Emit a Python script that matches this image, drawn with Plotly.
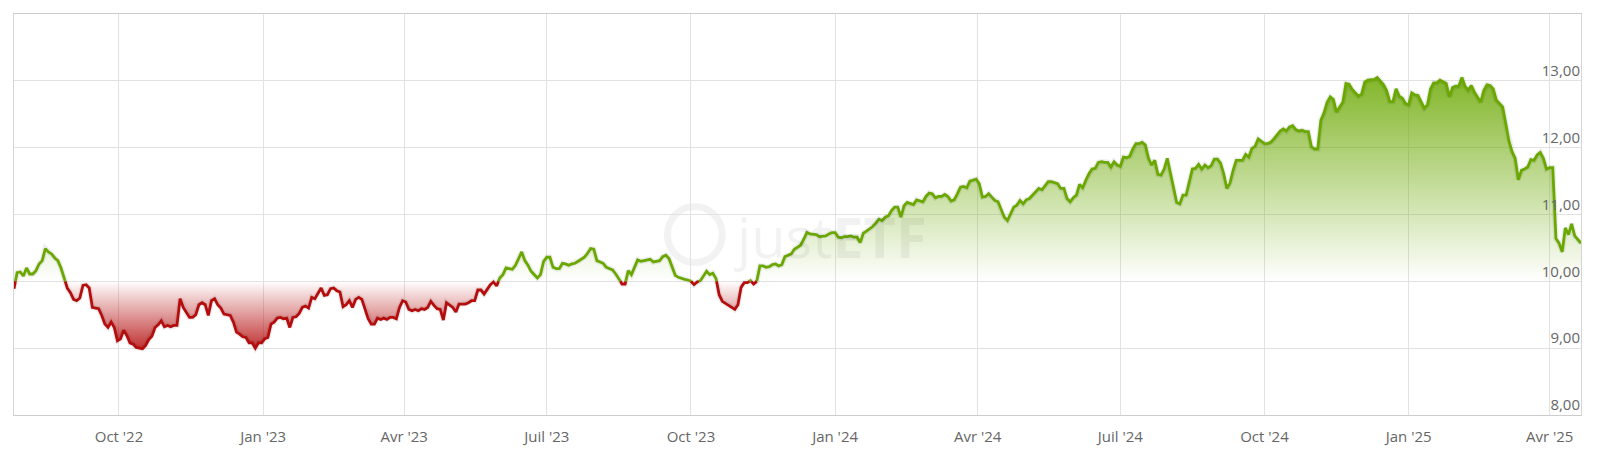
import pandas as pd
import plotly.graph_objects as go

# ---------------- data ----------------
start_date = "2022-07-26"
sample_step = "2D"
prices = [
    9.89, 10.13, 10.14, 10.08, 10.20, 10.11, 10.11, 10.16, 10.26, 10.31,
    10.49, 10.44, 10.41, 10.35, 10.31, 10.20, 10.05, 9.90, 9.83, 9.73,
    9.71, 9.75, 9.94, 9.95, 9.90, 9.61, 9.60, 9.59, 9.49, 9.36,
    9.31, 9.39, 9.31, 9.11, 9.14, 9.27, 9.19, 9.08, 9.06, 9.01,
    9.00, 8.99, 9.04, 9.13, 9.18, 9.31, 9.35, 9.41, 9.32, 9.34,
    9.32, 9.34, 9.34, 9.74, 9.61, 9.54, 9.46, 9.46, 9.50, 9.65,
    9.68, 9.65, 9.49, 9.71, 9.74, 9.65, 9.60, 9.51, 9.50, 9.49,
    9.39, 9.24, 9.21, 9.17, 9.16, 9.08, 9.08, 9.00, 9.08, 9.08,
    9.14, 9.16, 9.36, 9.39, 9.45, 9.46, 9.44, 9.45, 9.31, 9.46,
    9.47, 9.52, 9.61, 9.63, 9.60, 9.76, 9.74, 9.83, 9.90, 9.79,
    9.80, 9.89, 9.90, 9.86, 9.84, 9.62, 9.65, 9.71, 9.61, 9.73,
    9.76, 9.73, 9.59, 9.44, 9.36, 9.36, 9.45, 9.43, 9.45, 9.43,
    9.46, 9.46, 9.44, 9.61, 9.71, 9.69, 9.58, 9.56, 9.58, 9.56,
    9.59, 9.58, 9.61, 9.70, 9.64, 9.59, 9.58, 9.42, 9.68, 9.65,
    9.61, 9.54, 9.66, 9.66, 9.66, 9.68, 9.71, 9.71, 9.87, 9.87,
    9.81, 9.88, 9.95, 9.99, 9.93, 10.05, 10.10, 10.20, 10.19, 10.18,
    10.24, 10.35, 10.44, 10.31, 10.24, 10.15, 10.10, 10.05, 10.10, 10.30,
    10.36, 10.36, 10.21, 10.19, 10.19, 10.27, 10.26, 10.24, 10.26, 10.27,
    10.30, 10.33, 10.36, 10.42, 10.49, 10.48, 10.31, 10.29, 10.27, 10.21,
    10.19, 10.17, 10.11, 10.04, 9.96, 9.96, 10.16, 10.10, 10.21, 10.32,
    10.30, 10.31, 10.31, 10.33, 10.29, 10.30, 10.31, 10.37, 10.39, 10.34,
    10.21, 10.09, 10.06, 10.04, 10.03, 10.02, 10.00, 9.95, 9.99, 10.01,
    10.08, 10.15, 10.10, 10.12, 10.04, 9.80, 9.70, 9.67, 9.65, 9.61,
    9.58, 9.65, 9.91, 9.98, 9.98, 10.01, 9.96, 10.00, 10.23, 10.23,
    10.21, 10.22, 10.25, 10.26, 10.23, 10.25, 10.37, 10.39, 10.41, 10.48,
    10.51, 10.54, 10.63, 10.73, 10.71, 10.71, 10.70, 10.67, 10.68, 10.68,
    10.71, 10.73, 10.73, 10.66, 10.65, 10.67, 10.67, 10.68, 10.66, 10.66,
    10.58, 10.72, 10.75, 10.78, 10.82, 10.87, 10.93, 10.91, 10.96, 10.98,
    11.06, 11.11, 11.11, 10.96, 11.13, 11.18, 11.16, 11.15, 11.22, 11.21,
    11.19, 11.27, 11.32, 11.31, 11.25, 11.27, 11.27, 11.30, 11.27, 11.20,
    11.22, 11.31, 11.41, 11.42, 11.40, 11.50, 11.52, 11.53, 11.46, 11.26,
    11.27, 11.31, 11.26, 11.21, 11.19, 11.06, 10.96, 10.91, 11.01, 11.11,
    11.14, 11.21, 11.16, 11.22, 11.24, 11.29, 11.34, 11.39, 11.37, 11.43,
    11.49, 11.49, 11.48, 11.46, 11.39, 11.39, 11.24, 11.19, 11.25, 11.29,
    11.45, 11.40, 11.51, 11.61, 11.68, 11.69, 11.78, 11.79, 11.78, 11.78,
    11.71, 11.79, 11.74, 11.72, 11.86, 11.85, 11.87, 11.98, 12.06, 12.06,
    12.08, 12.04, 11.84, 11.74, 11.81, 11.60, 11.59, 11.68, 11.84, 11.62,
    11.36, 11.18, 11.16, 11.29, 11.29, 11.51, 11.68, 11.69, 11.75, 11.68,
    11.74, 11.70, 11.73, 11.83, 11.83, 11.77, 11.61, 11.39, 11.47, 11.66,
    11.81, 11.81, 11.81, 11.90, 11.86, 11.99, 12.02, 12.13, 12.10, 12.06,
    12.06, 12.08, 12.13, 12.19, 12.25, 12.28, 12.25, 12.31, 12.33, 12.27,
    12.25, 12.26, 12.24, 12.24, 12.01, 11.98, 11.98, 12.41, 12.52, 12.68,
    12.76, 12.72, 12.53, 12.61, 12.68, 12.96, 12.95, 12.87, 12.82, 12.77,
    12.80, 12.98, 13.01, 13.01, 13.02, 13.05, 13.00, 12.94, 12.85, 12.69,
    12.69, 12.88, 12.77, 12.74, 12.66, 12.64, 12.82, 12.79, 12.78, 12.68,
    12.59, 12.64, 12.88, 12.97, 12.97, 13.01, 12.98, 12.96, 12.76, 12.90,
    12.92, 12.92, 13.05, 12.92, 12.86, 12.93, 12.83, 12.75, 12.68, 12.86,
    12.94, 12.93, 12.88, 12.71, 12.66, 12.61, 12.36, 12.10, 11.94, 11.84,
    11.52, 11.66, 11.68, 11.71, 11.82, 11.81, 11.89, 11.93, 11.84, 11.68,
    11.70, 11.70, 10.64, 10.57, 10.44, 10.80, 10.70, 10.86, 10.68, 10.63,
    10.57,
]
threshold = 10.0

tick_dates = ["2022-10-01", "2023-01-01", "2023-04-01", "2023-07-01",
              "2023-10-01", "2024-01-01", "2024-04-01", "2024-07-01",
              "2024-10-01", "2025-01-01", "2025-04-01"]
tick_labels = ["Oct '22", "Jan '23", "Avr '23", "Juil '23", "Oct '23",
               "Jan '24", "Avr '24", "Juil '24", "Oct '24", "Jan '25", "Avr '25"]
y_ticks = [8, 9, 10, 11, 12, 13]

# ---------------- styling ----------------
GREEN = "#6aa800"
RED = "#b50d0d"
GRID = "#e2e2e2"
TEXT = "#666666"
FONT = "Open Sans"

dates = list(pd.date_range(start=start_date, periods=len(prices), freq=sample_step))

# insert the points where the series crosses the threshold
X, Y = [], []
for k, v in enumerate(prices):
    if k > 0 and (prices[k - 1] - threshold) * (v - threshold) < 0:
        t = (threshold - prices[k - 1]) / (v - prices[k - 1])
        X.append(dates[k - 1] + (dates[k] - dates[k - 1]) * t)
        Y.append(threshold)
    X.append(dates[k])
    Y.append(v)

base = [threshold] * len(X)
up_fill = [max(v, threshold) for v in Y]
dn_fill = [min(v, threshold) for v in Y]
up_line = [v if v >= threshold else None for v in Y]
dn_line = [v if v <= threshold else None for v in Y]

fig = go.Figure()
fig.add_trace(go.Scatter(x=X, y=base, mode="lines", line=dict(width=0), hoverinfo="skip"))
fig.add_trace(go.Scatter(
    x=X, y=up_fill, mode="lines", line=dict(width=0), fill="tonexty",
    fillgradient=dict(type="vertical", start=threshold, stop=max(prices),
                      colorscale=[[0, "rgba(106,168,0,0.0)"], [1, "rgba(106,168,0,0.84)"]]),
    hoverinfo="skip"))
fig.add_trace(go.Scatter(x=X, y=base, mode="lines", line=dict(width=0), hoverinfo="skip"))
fig.add_trace(go.Scatter(
    x=X, y=dn_fill, mode="lines", line=dict(width=0), fill="tonexty",
    fillgradient=dict(type="vertical", start=min(prices), stop=threshold,
                      colorscale=[[0, "rgba(181,13,13,0.85)"], [1, "rgba(181,13,13,0.0)"]]),
    hoverinfo="skip"))
# subtle shadow under the line
fig.add_trace(go.Scatter(x=X, y=Y, mode="lines",
                         line=dict(color="rgba(0,0,0,0.07)", width=5.5), hoverinfo="skip"))
fig.add_trace(go.Scatter(x=X, y=up_line, mode="lines", connectgaps=False,
                         line=dict(color=GREEN, width=2.8)))
fig.add_trace(go.Scatter(x=X, y=dn_line, mode="lines", connectgaps=False,
                         line=dict(color=RED, width=2.8)))

# faint watermark
fig.add_annotation(xref="paper", yref="paper", x=0.521, y=0.446,
                   text="just<b>ETF</b>", showarrow=False,
                   font=dict(family=FONT, size=56, color="rgba(0,0,0,0.05)"))
fig.add_shape(type="circle", xref="paper", yref="paper", layer="below",
              x0=0.417, x1=0.452, y0=0.38, y1=0.52,
              line=dict(color="rgba(0,0,0,0.05)", width=7))

fig.update_layout(
    width=1600, height=459,
    margin=dict(l=14, r=19, t=14, b=44),
    paper_bgcolor="white", plot_bgcolor="white",
    showlegend=False, hovermode=False,
    separators=", ",
    font=dict(family=FONT, size=15, color=TEXT),
    xaxis=dict(type="date", range=[dates[0], dates[-1]],
               tickvals=tick_dates, ticktext=tick_labels,
               showgrid=True, gridcolor=GRID, gridwidth=1,
               showline=True, linecolor="#cccccc", linewidth=1, mirror=True,
               ticks="", ticklabelstandoff=8, ticklabeloverflow="allow",
               tickfont=dict(family=FONT, size=15, color=TEXT), zeroline=False),
    yaxis=dict(range=[8, 14], side="right", tickvals=y_ticks, tickformat=".2f",
               ticklabelposition="inside", ticklabelshift=-10, ticklabelstandoff=1,
               ticklabeloverflow="allow",
               showgrid=True, gridcolor=GRID, gridwidth=1,
               showline=True, linecolor="#d6d6d6", linewidth=1, mirror=True,
               ticks="", tickfont=dict(family=FONT, size=15, color=TEXT), zeroline=False),
)

fig.write_html("out.html", config={"displayModeBar": False},
               post_script="document.body.style.margin='0px';document.body.style.overflow='hidden';")
